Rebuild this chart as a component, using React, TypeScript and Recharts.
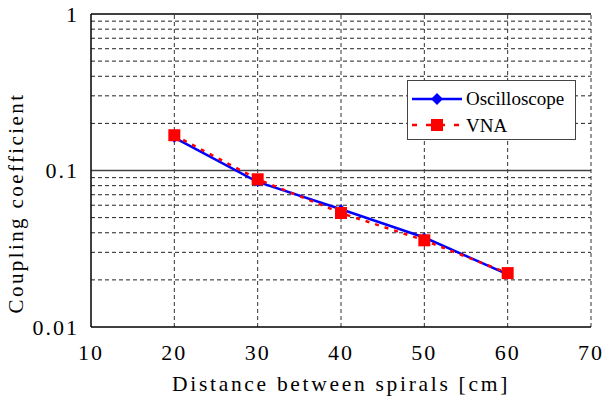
import React from 'react';
import { LineChart, Line, XAxis, YAxis, ReferenceLine } from 'recharts';

const distances = [20, 30, 40, 50, 60];
const oscilloscope = [0.162, 0.0845, 0.0565, 0.0373, 0.0217];
const vna = [0.168, 0.0879, 0.0535, 0.0358, 0.0221];

const xTicks = [10, 20, 30, 40, 50, 60, 70];
const yTicks = [0.01, 0.1, 1];
const minorY = [0.02, 0.03, 0.04, 0.05, 0.06, 0.07, 0.08, 0.09, 0.2, 0.3, 0.4, 0.5, 0.6, 0.7, 0.8, 0.9];
const gridX = [20, 30, 40, 50, 60, 70];

const data = distances.map((d, i) => ({ d, osc: oscilloscope[i], vna: vna[i] }));

const FONT = 'Liberation Serif, DejaVu Serif, serif';

const Diamond = (props: any) => {
  const { cx, cy } = props;
  if (cx == null || cy == null) return null;
  const r = 5;
  return <path d={`M${cx},${cy - r}L${cx + r},${cy}L${cx},${cy + r}L${cx - r},${cy}Z`} fill="#0000ff" />;
};

const Square = (props: any) => {
  const { cx, cy } = props;
  if (cx == null || cy == null) return null;
  return <rect x={cx - 6} y={cy - 6} width={12} height={12} fill="#ff0000" />;
};

const YLabel = () => (
  <text transform="translate(23,203) rotate(-90)" textAnchor="middle" fill="#000" style={{ fontFamily: FONT, fontSize: 21, letterSpacing: 2.4 }}>
    Coupling coefficient
  </text>
);

const LegendBox = () => (
  <div style={{ position: 'absolute', left: 407, top: 80, width: 169, height: 60, border: '1.5px solid #444', background: '#fff', boxSizing: 'border-box' }}>
    <svg width={166} height={57} style={{ display: 'block' }}>
      <line x1={4} y1={18} x2={54} y2={18} stroke="#0000ff" strokeWidth={2.5} />
      <path d="M29,12L35,18L29,24L23,18Z" fill="#0000ff" />
      <text x={58} y={24} style={{ fontFamily: FONT, fontSize: 19 }}>Oscilloscope</text>
      <line x1={4} y1={44} x2={54} y2={44} stroke="#ff0000" strokeWidth={2.5} strokeDasharray="5 9" />
      <rect x={23} y={38} width={12} height={12} fill="#ff0000" />
      <text x={58} y={51} style={{ fontFamily: FONT, fontSize: 19 }}>VNA</text>
    </svg>
  </div>
);

export default function App() {
  return (
    <div style={{ position: 'absolute', left: 0, top: 0, width: 606, height: 399, background: '#fff', fontFamily: FONT }}>
      <LineChart width={606} height={399} data={data} margin={{ top: 14, right: 15, bottom: 0, left: 0 }} style={{ fontFamily: FONT }}>
        {minorY.map((v) => (
          <ReferenceLine key={'my' + v} y={v} stroke="#222" strokeDasharray="4 3" strokeWidth={1} />
        ))}
        {gridX.map((v) => (
          <ReferenceLine key={'gx' + v} x={v} stroke="#333" strokeDasharray="4 3" strokeWidth={1} />
        ))}
        <ReferenceLine y={0.1} stroke="#444" strokeWidth={1.5} />
        <ReferenceLine y={1} stroke="#000" strokeWidth={1.5} />
        <XAxis
          dataKey="d"
          type="number"
          domain={[10, 70]}
          ticks={xTicks}
          height={72}
          axisLine={{ stroke: '#000', strokeWidth: 1.5 }}
          tickLine={false}
          tickSize={0}
          tickMargin={17}
          tick={{ fill: '#000', fontSize: 22, fontFamily: FONT, letterSpacing: 2 }}
          label={{ value: 'Distance between spirals [cm]', position: 'insideBottom', offset: 8, fill: '#000', fontSize: 21.5, fontFamily: FONT, letterSpacing: 2.7 }}
        />
        <YAxis
          scale="log"
          domain={[0.01, 1]}
          ticks={yTicks}
          allowDataOverflow
          width={91}
          axisLine={{ stroke: '#000', strokeWidth: 1.5 }}
          tickLine={false}
          tickSize={0}
          tickMargin={12}
          tickFormatter={(v: number) => String(v)}
          tick={{ fill: '#000', fontSize: 22, fontFamily: FONT, letterSpacing: 2 }}
          label={<YLabel />}
        />
        <Line dataKey="osc" stroke="#0000ff" strokeWidth={2.5} dot={<Diamond />} isAnimationActive={false} />
        <Line dataKey="vna" stroke="#ff0000" strokeWidth={2.5} strokeDasharray="4 6" dot={<Square />} isAnimationActive={false} />
      </LineChart>
      <LegendBox />
    </div>
  );
}
